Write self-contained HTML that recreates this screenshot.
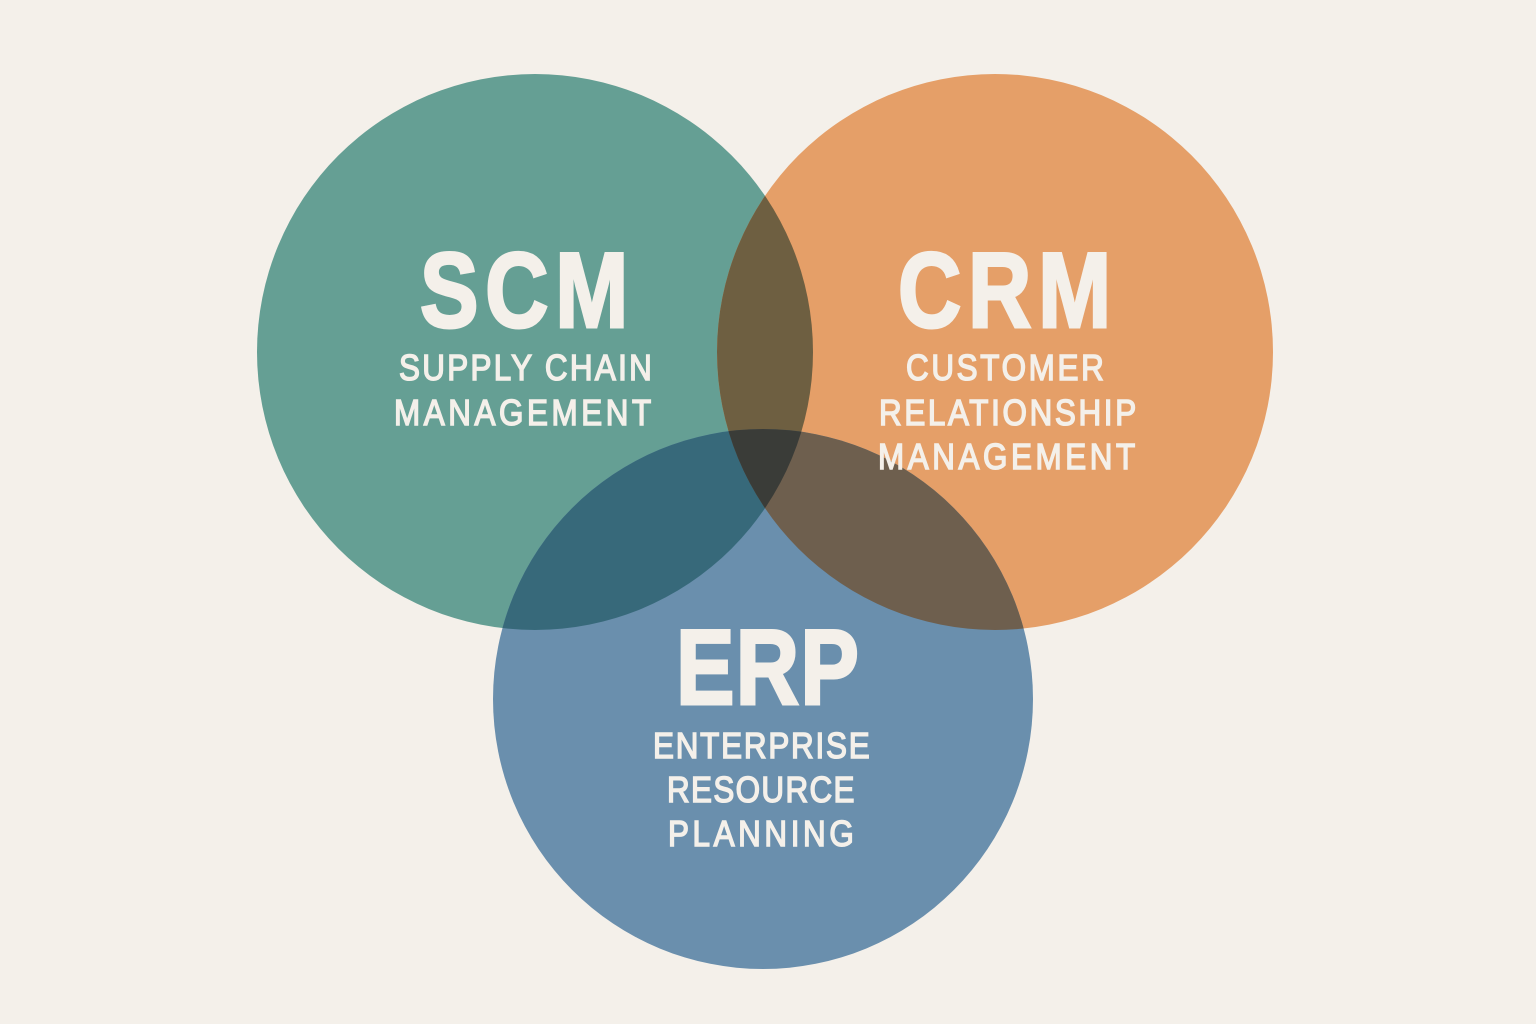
<!DOCTYPE html>
<html><head><meta charset="utf-8"><style>
html,body{margin:0;padding:0;background:#f4f0ea;width:1536px;height:1024px;overflow:hidden}
svg{display:block}
text{font-family:"Liberation Sans",sans-serif;fill:#f4f0ea}
.b{font-size:107px;font-weight:700;stroke:#f4f0ea;stroke-width:3}
.s{font-size:36.5px;font-weight:400;stroke:#f4f0ea;stroke-width:1.5}
</style></head><body>
<svg width="1536" height="1024" viewBox="0 0 1536 1024" xmlns="http://www.w3.org/2000/svg">
<defs>
<clipPath id="cS"><circle cx="535" cy="352" r="278"/></clipPath>
<clipPath id="cC"><circle cx="995" cy="352" r="278"/></clipPath>
<clipPath id="cE"><circle cx="763" cy="699" r="270"/></clipPath>
</defs>
<rect width="1536" height="1024" fill="#f4f0ea"/>
<circle cx="535" cy="352" r="278" fill="#659f94"/>
<circle cx="995" cy="352" r="278" fill="#e59f68"/>
<circle cx="763" cy="699" r="270" fill="#6a8fad"/>
<g clip-path="url(#cS)"><circle cx="995" cy="352" r="278" fill="#6e5f41"/></g>
<g clip-path="url(#cS)"><circle cx="763" cy="699" r="270" fill="#37697a"/></g>
<g clip-path="url(#cC)"><circle cx="763" cy="699" r="270" fill="#6e5f4e"/></g>
<g clip-path="url(#cS)"><g clip-path="url(#cC)"><circle cx="763" cy="699" r="270" fill="#3a3c38"/></g></g>
<text class="b" transform="translate(420,327) scale(.82,1)" textLength="254" lengthAdjust="spacing">SCM</text>
<text class="s" transform="translate(399,380) scale(.86,1)" textLength="294" lengthAdjust="spacing">SUPPLY CHAIN</text>
<text class="s" transform="translate(394,425) scale(.86,1)" textLength="299" lengthAdjust="spacing">MANAGEMENT</text>
<text class="b" transform="translate(898,327) scale(.82,1)" textLength="260" lengthAdjust="spacing">CRM</text>
<text class="s" transform="translate(906,380) scale(.86,1)" textLength="230" lengthAdjust="spacing">CUSTOMER</text>
<text class="s" transform="translate(879,425) scale(.86,1)" textLength="299" lengthAdjust="spacing">RELATIONSHIP</text>
<text class="s" transform="translate(878,469) scale(.86,1)" textLength="299" lengthAdjust="spacing">MANAGEMENT</text>
<text class="b" transform="translate(676,704) scale(.82,1)" textLength="223" lengthAdjust="spacing">ERP</text>
<text class="s" transform="translate(653,758) scale(.86,1)" textLength="252" lengthAdjust="spacing">ENTERPRISE</text>
<text class="s" transform="translate(667,802) scale(.86,1)" textLength="218" lengthAdjust="spacing">RESOURCE</text>
<text class="s" transform="translate(668,846) scale(.86,1)" textLength="216" lengthAdjust="spacing">PLANNING</text>
</svg>
</body></html>
